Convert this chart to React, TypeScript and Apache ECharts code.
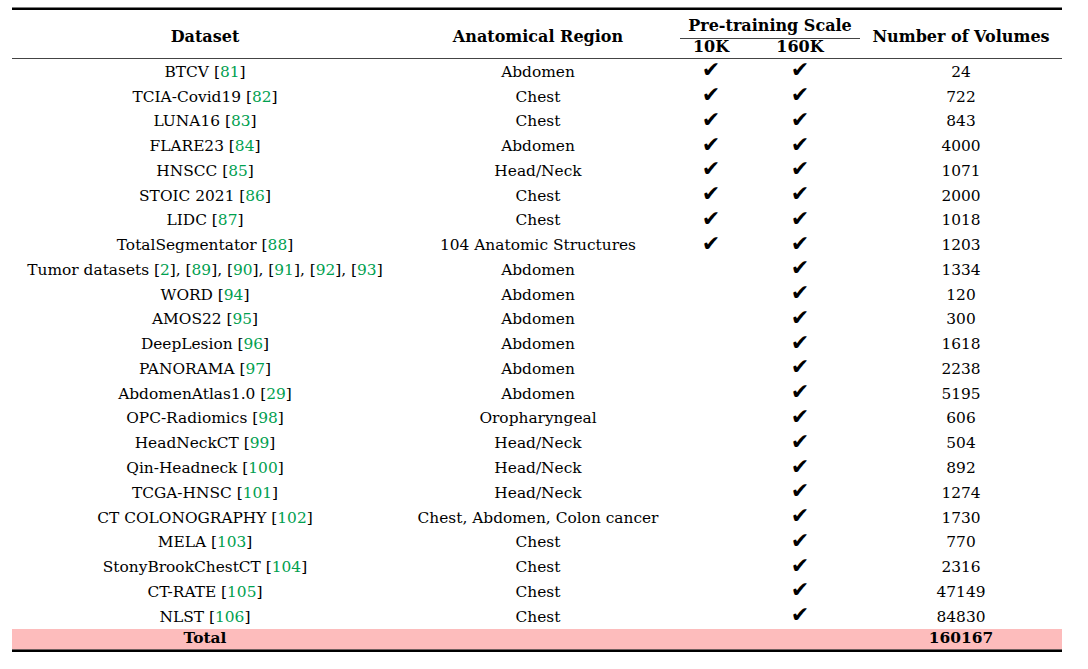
import React, { useEffect, useRef } from "react";
import * as echarts from "echarts";

const datasets: string[] = [
  "BTCV", "TCIA-Covid19", "LUNA16", "FLARE23", "HNSCC", "STOIC 2021", "LIDC",
  "TotalSegmentator", "Tumor datasets", "WORD", "AMOS22", "DeepLesion", "PANORAMA",
  "AbdomenAtlas1.0", "OPC-Radiomics", "HeadNeckCT", "Qin-Headneck", "TCGA-HNSC",
  "CT COLONOGRAPHY", "MELA", "StonyBrookChestCT", "CT-RATE", "NLST",
];
const citations: string[][] = [
  ["81"], ["82"], ["83"], ["84"], ["85"], ["86"], ["87"], ["88"],
  ["2", "89", "90", "91", "92", "93"], ["94"], ["95"], ["96"], ["97"], ["29"],
  ["98"], ["99"], ["100"], ["101"], ["102"], ["103"], ["104"], ["105"], ["106"],
];
const regions: string[] = [
  "Abdomen", "Chest", "Chest", "Abdomen", "Head/Neck", "Chest", "Chest",
  "104 Anatomic Structures", "Abdomen", "Abdomen", "Abdomen", "Abdomen", "Abdomen",
  "Abdomen", "Oropharyngeal", "Head/Neck", "Head/Neck", "Head/Neck",
  "Chest, Abdomen, Colon cancer", "Chest", "Chest", "Chest", "Chest",
];
const in10K: boolean[] = [
  true, true, true, true, true, true, true, true,
  false, false, false, false, false, false, false, false, false, false, false, false, false, false, false,
];
const in160K: boolean[] = datasets.map(() => true);
const volumes: number[] = [
  24, 722, 843, 4000, 1071, 2000, 1018, 1203, 1334, 120, 300, 1618, 2238, 5195,
  606, 504, 892, 1274, 1730, 770, 2316, 47149, 84830,
];
const totalLabel = "Total";
const totalVolumes = 160167;
const headers = {
  dataset: "Dataset",
  region: "Anatomical Region",
  scale: "Pre-training Scale",
  k10: "10K",
  k160: "160K",
  volumes: "Number of Volumes",
};

const FONT = "'DejaVu Serif', serif";
const CHECK_FONT = "'DejaVu Sans', sans-serif";
const BODY_SIZE = 15.4;
const GREEN = "#00a04f";
const PINK = "#fdbcbc";
const COL = { dataset: 205, region: 538, k10: 711, k160: 800, volumes: 961 };
const LEFT = 12;
const RIGHT = 1062;

export default function App() {
  const ref = useRef<HTMLDivElement>(null);
  useEffect(() => {
    if (!ref.current) return;
    const chart = echarts.init(ref.current, null, { renderer: "svg" });
    const rows = [...datasets, totalLabel];
    const n = datasets.length;
    const rich = {
      n: { fontFamily: FONT, fontSize: BODY_SIZE, fill: "#000", color: "#000" },
      g: { fontFamily: FONT, fontSize: BODY_SIZE, fill: GREEN, color: GREEN },
    } as any;

    const renderItem = (params: any, api: any) => {
      const i = api.value(1);
      const pt = api.coord([0, i]);
      const band = api.size([0, 1])[1];
      const cy = pt[1];
      const xOf = (v: number) => api.coord([v, i])[0];
      const children: any[] = [];
      if (i === n) {
        const top = cy - band / 2;
        children.push({
          type: "rect",
          shape: { x: xOf(LEFT), y: top, width: xOf(RIGHT) - xOf(LEFT), height: 20.3 },
          style: { fill: PINK },
        });
        const ty = top + 9;
        children.push({
          type: "text",
          style: { text: totalLabel, x: xOf(COL.dataset), y: ty, align: "center", verticalAlign: "middle", font: `bold ${BODY_SIZE}px ${FONT}`, fill: "#000" },
        });
        children.push({
          type: "text",
          style: { text: String(totalVolumes), x: xOf(COL.volumes), y: ty, align: "center", verticalAlign: "middle", font: `bold ${BODY_SIZE}px ${FONT}`, fill: "#000" },
        });
        return { type: "group", children };
      }
      const cites = citations[i]
        .map((c) => `{n|[}{g|${c}}{n|]}`)
        .join("{n|, }");
      children.push({
        type: "text",
        style: {
          text: `{n|${datasets[i]} }${cites}`,
          rich,
          x: xOf(COL.dataset), y: cy, align: "center", verticalAlign: "middle",
          font: `${BODY_SIZE}px ${FONT}`,
        },
      });
      children.push({
        type: "text",
        style: { text: regions[i], x: xOf(COL.region), y: cy, align: "center", verticalAlign: "middle", font: `${BODY_SIZE}px ${FONT}`, fill: "#000" },
      });
      const check = (x: number) => ({
        type: "text",
        style: { text: "✔", x: xOf(x), y: cy - 2, align: "center", verticalAlign: "middle", font: `22px ${CHECK_FONT}`, fill: "#000" },
      });
      if (in10K[i]) children.push(check(COL.k10));
      if (in160K[i]) children.push(check(COL.k160));
      children.push({
        type: "text",
        style: { text: String(volumes[i]), x: xOf(COL.volumes), y: cy, align: "center", verticalAlign: "middle", font: `${BODY_SIZE}px ${FONT}`, fill: "#000" },
      });
      return { type: "group", children };
    };

    const hFont = `bold 16px ${FONT}`;
    const hText = (text: string, x: number, y: number) => ({
      type: "text",
      style: { text, x, y, align: "center", verticalAlign: "middle", font: hFont, fill: "#000" },
    });

    chart.setOption({
      animation: false,
      grid: { left: 0, right: 0, top: 59.5, height: 594.2 },
      xAxis: { type: "value", min: 0, max: 1088, show: false },
      yAxis: { type: "category", data: rows, inverse: true, show: false },
      series: [
        {
          type: "custom",
          clip: false,
          renderItem,
          encode: { x: 0, y: 1 },
          data: rows.map((_, i) => [0, i]),
        },
      ],
      graphic: [
        { type: "line", shape: { x1: LEFT, y1: 8.7, x2: RIGHT, y2: 8.7 }, style: { stroke: "#000", lineWidth: 2.6 } },
        { type: "line", shape: { x1: LEFT, y1: 58.5, x2: RIGHT, y2: 58.5 }, style: { stroke: "#444", lineWidth: 1 } },
        { type: "line", shape: { x1: 680, y1: 38.5, x2: 860, y2: 38.5 }, style: { stroke: "#444", lineWidth: 1 } },
        { type: "line", shape: { x1: LEFT, y1: 650.6, x2: RIGHT, y2: 650.6 }, style: { stroke: "#000", lineWidth: 2.6 } },
        hText(headers.dataset, COL.dataset, 36),
        hText(headers.region, COL.region, 36),
        hText(headers.scale, 770, 25),
        hText(headers.k10, COL.k10, 46),
        hText(headers.k160, COL.k160, 46),
        hText(headers.volumes, COL.volumes, 36),
      ],
    });
    return () => chart.dispose();
  }, []);
  return (
    <div
      ref={ref}
      style={{ position: "fixed", left: 0, top: 0, width: 1088, height: 669, background: "#fff" }}
    />
  );
}
